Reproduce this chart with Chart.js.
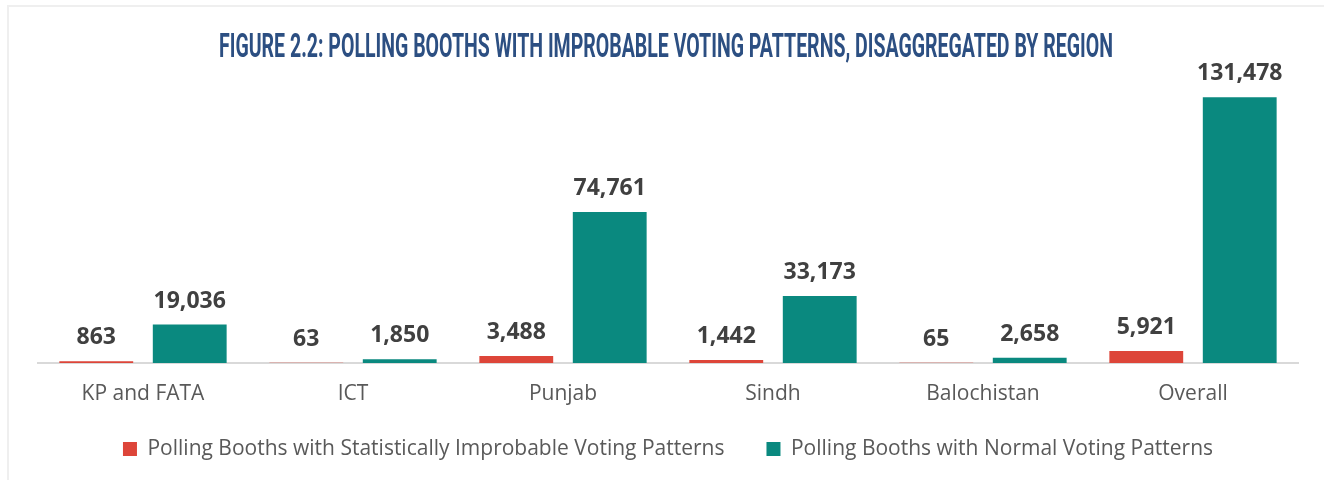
<!DOCTYPE html>
<html>
<head>
<meta charset="utf-8">
<script src="https://cdn.jsdelivr.net/npm/chart.js@4.4.1/dist/chart.umd.min.js"></script>
<style>
  html, body { margin: 0; padding: 0; background: #fff; overflow: hidden; }
  .wrap { position: relative; width: 1324px; height: 480px; }
  .frame {
    position: absolute; left: 7px; top: 5px; right: 0; bottom: 0;
    border-top: 2px solid #efefef; border-left: 2px solid #efefef;
    pointer-events: none;
  }
  canvas { position: absolute; left: 0; top: 0; }
</style>
</head>
<body>
<div class="wrap">
  <div class="frame"></div>
  <canvas id="chart" width="1324" height="480"></canvas>
</div>
<script>
const titleText = 'FIGURE 2.2: POLLING BOOTHS WITH IMPROBABLE VOTING PATTERNS, DISAGGREGATED BY REGION';
const regions = ['KP and FATA', 'ICT', 'Punjab', 'Sindh', 'Balochistan', 'Overall'];
const improbableBooths = [863, 63, 3488, 1442, 65, 5921];
const normalBooths = [19036, 1850, 74761, 33173, 2658, 131478];
const seriesNames = [
  'Polling Booths with Statistically Improbable Voting Patterns',
  'Polling Booths with Normal Voting Patterns'
];

// condensed title: measure the bold text and squeeze it horizontally
const titlePlugin = {
  id: 'condensedTitle',
  afterDraw(chart) {
    const ctx = chart.ctx;
    ctx.save();
    ctx.font = 'bold 33px Roboto, "DejaVu Sans", sans-serif';
    const w = ctx.measureText(titleText).width;
    ctx.translate(666, 57);
    ctx.scale(894 / w, 1);
    ctx.fillStyle = '#2c4f82';
    ctx.textAlign = 'center';
    ctx.textBaseline = 'alphabetic';
    ctx.fillText(titleText, 0, 0);
    ctx.restore();
  }
};

// value labels sitting above each bar
const valueLabels = {
  id: 'valueLabels',
  afterDatasetsDraw(chart) {
    const ctx = chart.ctx;
    ctx.save();
    ctx.font = 'bold 23px "Open Sans", sans-serif';
    ctx.fillStyle = '#404040';
    ctx.textAlign = 'center';
    ctx.textBaseline = 'alphabetic';
    chart.data.datasets.forEach((ds, i) => {
      chart.getDatasetMeta(i).data.forEach((bar, j) => {
        ctx.fillText(ds.data[j].toLocaleString('en-US'), bar.x, bar.y - 17);
      });
    });
    ctx.restore();
  }
};

new Chart(document.getElementById('chart'), {
  type: 'bar',
  data: {
    labels: regions,
    datasets: [
      {
        label: seriesNames[0],
        data: improbableBooths,
        backgroundColor: '#dd4539',
        categoryPercentage: 0.89,
        barPercentage: 0.79
      },
      {
        label: seriesNames[1],
        data: normalBooths,
        backgroundColor: '#0a897f',
        categoryPercentage: 0.89,
        barPercentage: 0.79
      }
    ]
  },
  options: {
    responsive: false,
    animation: false,
    layout: { padding: { top: 80, left: 38, right: 26, bottom: 10.5 } },
    plugins: {
      title: { display: false },
      tooltip: { enabled: false },
      legend: {
        position: 'bottom',
        // empty legend title with negative padding pulls the row up,
        // so the wide item spacing doesn't push it down
        title: {
          display: true,
          text: '',
          font: { size: 1, lineHeight: 1 },
          padding: { top: -14.5, bottom: 0 }
        },
        labels: {
          boxWidth: 14,
          boxHeight: 14,
          padding: 42,
          color: '#595959',
          font: { family: '"Open Sans", sans-serif', size: 21 }
        }
      }
    },
    scales: {
      y: {
        display: false,
        min: 0,
        max: 140000
      },
      x: {
        grid: { display: false, drawTicks: false },
        border: { display: true, color: '#d9d9d9', width: 2 },
        ticks: {
          padding: 20.5,
          color: '#595959',
          font: { family: '"Open Sans", sans-serif', size: 21, lineHeight: 1 }
        },
        afterFit(scale) {
          scale.height = 47;
        }
      }
    }
  },
  plugins: [titlePlugin, valueLabels]
});
</script>
</body>
</html>
